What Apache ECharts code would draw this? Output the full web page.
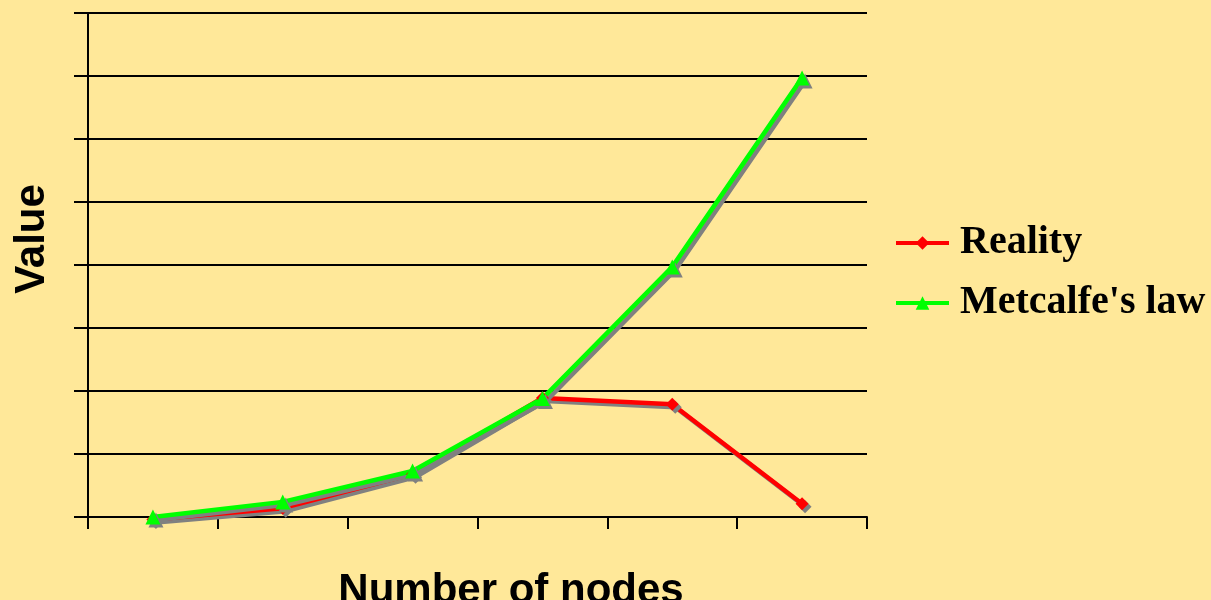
<!DOCTYPE html>
<html>
<head>
<meta charset="utf-8">
<script src="https://cdn.jsdelivr.net/npm/echarts@6/dist/echarts.min.js"></script>
<style>
html,body{margin:0;padding:0;background:#FFE899;}
#chart{width:1211px;height:600px;}
</style>
</head>
<body>
<div id="chart"></div>
<script>
var categories = ['1', '2', '3', '4', '5', '6'];
var realityValues = [-0.04, 0.14, 0.68, 1.89, 1.79, 0.21];
var metcalfeValues = [0, 0.24, 0.73, 1.88, 3.97, 6.97];
var seriesNames = ['Reality', "Metcalfe's law"];
var xTitle = 'Number of nodes';
var yTitle = 'Value';

var chart = echarts.init(document.getElementById('chart'));
var shadow = {shadowColor: '#808080', shadowOffsetX: 3, shadowOffsetY: 3, shadowBlur: 0};
chart.setOption({
  backgroundColor: '#FFE899',
  animation: false,
  grid: {left: 88, right: 344, top: 13, bottom: 83, containLabel: false},
  xAxis: {
    type: 'category',
    data: categories,
    boundaryGap: true,
    axisLine: {show: true, lineStyle: {color: '#000', width: 2}},
    axisTick: {show: true, length: 12, lineStyle: {color: '#000', width: 2}},
    axisLabel: {show: false},
    splitLine: {show: false}
  },
  yAxis: {
    type: 'value',
    min: 0, max: 8, interval: 1,
    axisLine: {show: true, lineStyle: {color: '#000', width: 2}},
    axisTick: {show: true, length: 14, lineStyle: {color: '#000', width: 2}},
    axisLabel: {show: false},
    splitLine: {show: true, lineStyle: {color: '#000', width: 2}}
  },
  legend: {
    orient: 'vertical',
    left: 894, top: 223, padding: 0,
    itemWidth: 53, itemHeight: 17, itemGap: 20,
    lineStyle: {width: 4},
    textStyle: {fontFamily: 'Liberation Serif', fontWeight: 'bold', fontSize: 40, color: '#000', padding: [0, 0, 0, 6]},
    data: seriesNames
  },
  graphic: [
    {type: 'text', x: 511, y: 591, style: {text: xTitle, font: 'bold 42px Liberation Sans', fill: '#000', textAlign: 'center', textVerticalAlign: 'middle'}},
    {type: 'text', x: 32, y: 239, rotation: Math.PI / 2, style: {text: yTitle, font: 'bold 42px Liberation Sans', fill: '#000', textAlign: 'center', textVerticalAlign: 'middle'}}
  ],
  series: [
    {
      name: seriesNames[0], type: 'line', data: realityValues, clip: false,
      symbol: 'diamond', symbolSize: 13,
      lineStyle: Object.assign({color: '#FF0000', width: 4.5}, shadow),
      itemStyle: Object.assign({color: '#FF0000'}, shadow)
    },
    {
      name: seriesNames[1], type: 'line', data: metcalfeValues, clip: false,
      symbol: 'triangle', symbolSize: 15,
      lineStyle: Object.assign({color: '#00FF00', width: 4.5}, shadow),
      itemStyle: Object.assign({color: '#00FF00'}, shadow)
    }
  ]
});
</script>
</body>
</html>
